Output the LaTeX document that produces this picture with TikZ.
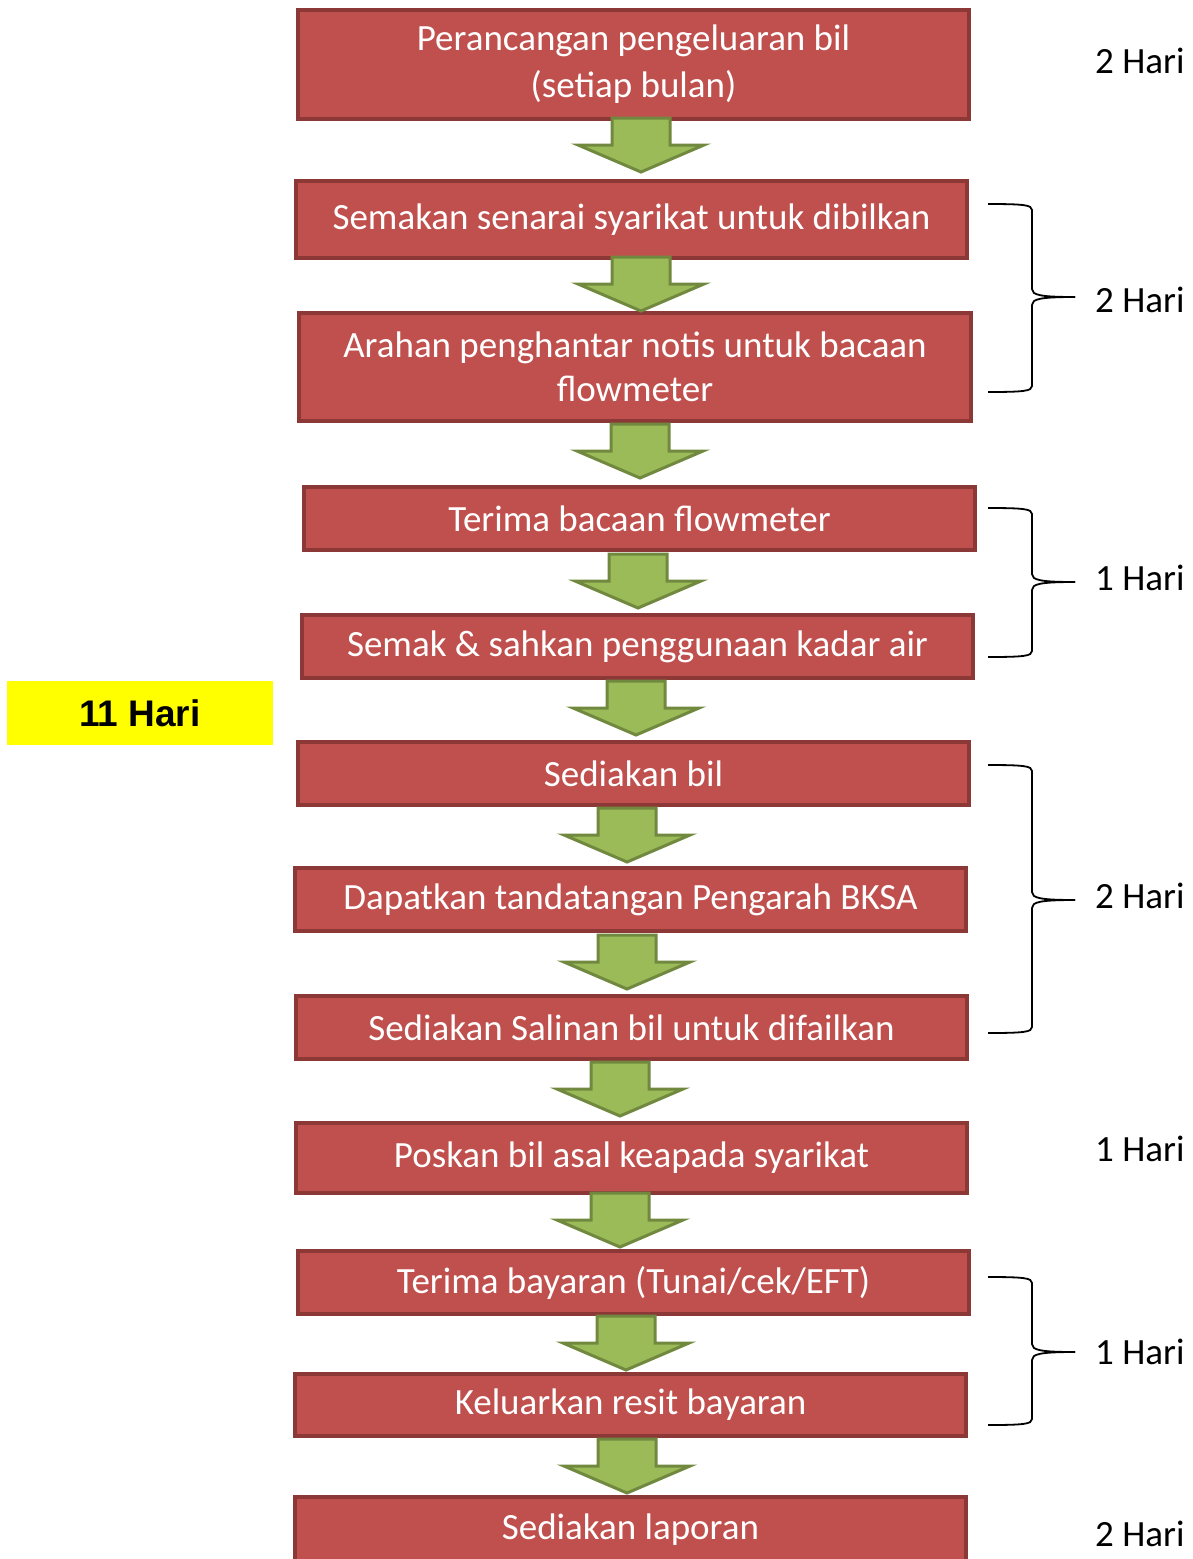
\documentclass[tikz,border=0pt]{standalone}
\usepackage{fontspec}
\setmainfont{Carlito}
\newfontfamily\totalfont{Liberation Sans}
\definecolor{boxfill}{HTML}{C0504D}
\definecolor{boxedge}{HTML}{8C3836}
\definecolor{arrowfill}{HTML}{9BBB59}
\definecolor{arrowedge}{HTML}{71893F}
\definecolor{totalbg}{HTML}{FFFF00}

% right-hand curly brace: top end, tip and bottom end (y values)
\newcommand\daybrace[3]{%
  \draw[bracestyle] (988,#1) .. controls (1024,#1) and (1032,#1+1) .. (1032,#1+6)
    -- (1032,#2-8) .. controls (1032,#2-2) and (1040,#2) .. (1075,#2);
  \draw[bracestyle] (988,#3) .. controls (1024,#3) and (1032,#3-1) .. (1032,#3-6)
    -- (1032,#2+8) .. controls (1032,#2+2) and (1040,#2) .. (1075,#2);
}

\begin{document}
\begin{tikzpicture}[x=1pt,y=-1pt,
  stepbox/.style={draw=boxedge, fill=boxfill, line width=4pt, text=white,
    align=center, inner sep=0pt, minimum width=671pt,
    font=\fontsize{37}{44}\selectfont},
  arrowstyle/.style={draw=arrowedge, fill=arrowfill, line width=3pt, line join=miter},
  bracestyle/.style={draw=black, line width=1.8pt},
  daylabel/.style={anchor=west, inner sep=0pt, font=\fontsize{37}{44}\selectfont},
  pics/flowarrow/.style={code={
    \path[arrowstyle] (-29,0) -- (29,0) -- (29,27) -- (63,27) -- (0,54)
      -- (-63,27) -- (-29,27) -- cycle;}}
]
\useasboundingbox (0,0) rectangle (1193,1559);

% process steps
\node[stepbox, minimum height=109pt] (b1) at (633.5,64.5) {Perancangan pengeluaran bil\\[3pt](setiap bulan)};
\node[stepbox, minimum height=77pt] (b2) at (631.5,219.5) {\raisebox{3pt}{Semakan senarai syarikat untuk dibilkan}};
\node[stepbox, minimum height=108pt, minimum width=672pt] (b3) at (635,367) {Arahan penghantar notis untuk bacaan\\flowmeter};
\node[stepbox, minimum height=63pt] (b4) at (639.5,518.5) {Terima bacaan flowmeter};
\node[stepbox, minimum height=63pt] (b5) at (637.5,646.5) {Semak \& sahkan penggunaan kadar air};
\node[stepbox, minimum height=63pt] (b6) at (633.5,773.5) {Sediakan bil};
\node[stepbox, minimum height=63pt] (b7) at (630.5,899.5) {Dapatkan tandatangan Pengarah BKSA};
\node[stepbox, minimum height=63pt] (b8) at (631.5,1027.5) {Sediakan Salinan bil untuk difailkan};
\node[stepbox, minimum height=70pt] (b9) at (631.5,1158) {Poskan bil asal keapada syarikat};
\node[stepbox, minimum height=63pt] (b10) at (633.5,1282.5) {Terima bayaran (Tunai/cek/EFT)};
\node[stepbox, minimum height=62pt] (b11) at (630.5,1405) {Keluarkan resit bayaran};
\node[stepbox, minimum height=66pt] (b12) at (630.5,1530) {Sediakan laporan};

% block arrows between the steps
\pic (a1) at (641,118) {flowarrow};
\pic (a2) at (641,257) {flowarrow};
\pic (a3) at (640,424) {flowarrow};
\pic (a4) at (638,554) {flowarrow};
\pic (a5) at (636,681) {flowarrow};
\pic (a6) at (627,808) {flowarrow};
\pic (a7) at (627,935) {flowarrow};
\pic (a8) at (620,1062) {flowarrow};
\pic (a9) at (620,1193) {flowarrow};
\pic (a10) at (626,1316) {flowarrow};
\pic (a11) at (627,1439) {flowarrow};

% duration braces
\daybrace{204}{297}{392}
\daybrace{508}{582}{657}
\daybrace{765}{900}{1033}
\daybrace{1277}{1352}{1425}

% durations
\node[daylabel] (d1) at (1095,61) {2 Hari};
\node[daylabel] (d2) at (1095,300) {2 Hari};
\node[daylabel] (d3) at (1095,578) {1 Hari};
\node[daylabel] (d4) at (1095,896) {2 Hari};
\node[daylabel] (d5) at (1095,1149) {1 Hari};
\node[daylabel] (d6) at (1095,1352) {1 Hari};
\node[daylabel] (d7) at (1095,1534) {2 Hari};

% overall total
\node[fill=totalbg, minimum width=266pt, minimum height=64pt, inner sep=0pt,
  font=\totalfont\bfseries\fontsize{37}{44}\selectfont] (total) at (140,713) {11 Hari};
\end{tikzpicture}
\end{document}
